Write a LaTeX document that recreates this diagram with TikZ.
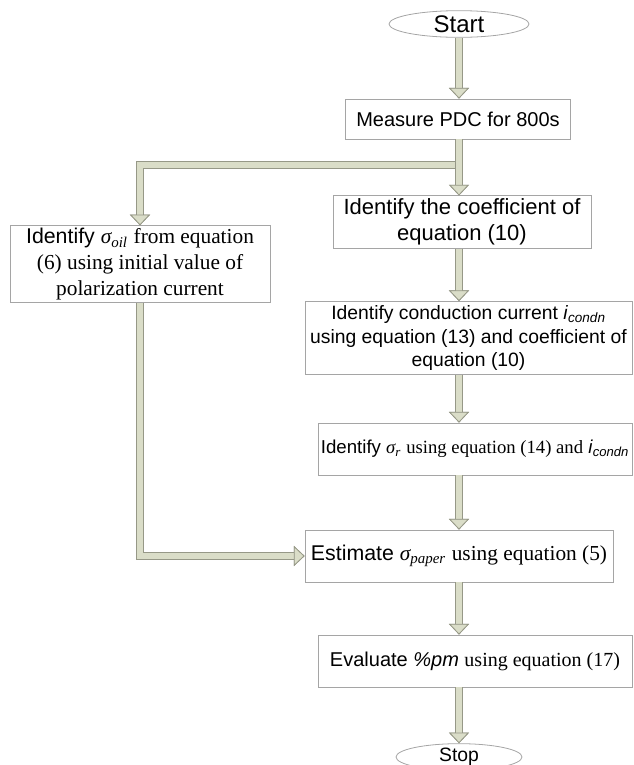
\documentclass[tikz,border=0pt]{standalone}
\usepackage{fontspec}
\setmainfont{Liberation Sans}
\newfontfamily\tnr{Liberation Serif}
\usetikzlibrary{arrows.meta,shapes.geometric}
\definecolor{shaft}{RGB}{218,221,200}
\definecolor{edge}{RGB}{150,152,135}
\definecolor{frame}{RGB}{165,165,165}
\newcommand\sgm[1]{{\tnr\itshape σ\textsubscript{#1}}}
\newcommand\icond{\textit{i}\textsubscript{\textit{condn}}}
\newcommand\fs[1]{\fontsize{#1}{1.2\dimexpr#1pt\relax}\selectfont}
\tikzset{
  every node/.style={font=\fs{15}},
  blk/.style={draw=frame, line width=0.6pt, align=center, inner sep=2pt},
  term/.style={ellipse, draw=frame, line width=0.6pt, inner sep=0pt},
  flow/.style={draw=shaft, line width=4pt,
    -{Triangle[length=8pt, width=15pt, color=edge, fill=shaft, line width=0.6pt]},
    preaction={draw=edge, line width=5.4pt}},
}

\begin{document}
\begin{tikzpicture}[x=0.75pt, y=-0.75pt]
\useasboundingbox (0,0) rectangle (633,765);

% ---------------------------------------------------------------- main column
\node[term, minimum width=105pt, minimum height=20pt, font=\fs{18}] (start) at (459,24) {Start};
\node[blk, minimum width=168.75pt, minimum height=30pt] (meas) at (458,119) {Measure PDC for 800s};
\node[blk, minimum width=193.5pt, minimum height=39pt, font=\fs{16.5}] (coef) at (462,222)
  {Identify the coefficient of\\equation (10)};
\node[blk, minimum width=245.25pt, minimum height=54.75pt, font=\fs{14.5}] (cond) at (468.5,338)
  {Identify conduction current \icond\\using equation (13) and coefficient of\\equation (10)};
\node[blk, minimum width=235.5pt, minimum height=39pt, font=\fs{14}] (sigr) at (475,449)
  {Identify \sgm{r} {\tnr using equation (14) and} \icond};
\node[blk, minimum width=231pt, minimum height=39pt, font=\fs{16}] (est) at (459,556)
  {Estimate \sgm{paper} {\tnr using equation (5)}};
\node[blk, minimum width=235.5pt, minimum height=39pt] (eval) at (475,661)
  {Evaluate \textit{\%pm} {\tnr using equation (17)}};
\node[term, minimum width=94.5pt, minimum height=20pt, font=\fs{14.5}] (stop) at (459,757) {Stop};

% ---------------------------------------------------------------- side branch
\node[blk, minimum width=195pt, minimum height=51pt, font=\fs{16}] (oil) at (140,264)
  {Identify \sgm{oil} {\tnr from equation}\\{\tnr (6) using initial value of}\\{\tnr polarization current}};

\coordinate (split) at (meas.south |- 0,165);
\draw[flow] ([xshift=2pt]split) -| (oil.north);
\draw[flow] (oil.south) |- (est.west);

% ---------------------------------------------------------------- arrows
\draw[flow] (start.south) -- (meas.north -| start.south);
\draw[flow] (meas.south -| start) -- (coef.north -| start);
\draw[flow] (coef.south -| start) -- (cond.north -| start);
\draw[flow] (cond.south -| start) -- (sigr.north -| start);
\draw[flow] (sigr.south -| start) -- (est.north -| start);
\draw[flow] (est.south -| start) -- (eval.north -| start);
\draw[flow] (eval.south -| start) -- (stop.north);

\end{tikzpicture}
\end{document}
